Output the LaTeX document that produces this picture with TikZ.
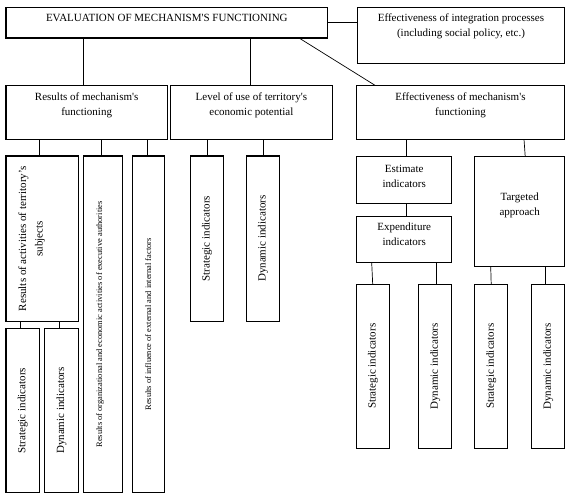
\documentclass[tikz,border=0pt]{standalone}
\usepackage{fontspec}
\setmainfont{Liberation Serif}
\tikzset{
  bx/.style={draw, line width=1.1pt, inner sep=0pt, outer sep=0pt, font=\fontsize{11}{15}\selectfont},
  ln/.style={line width=0.9pt},
  thinln/.style={line width=0.7pt},
}
% horizontal box: opts, name, x1,y1,x2,y2, gap, text
\newcommand\hb[8][]{\node[bx,#1] (#2) at ({(#3+#5)/2},{(#4+#6)/2}) {\parbox[c][\dimexpr#6pt-#4pt\relax][t]{\dimexpr#5pt-#3pt\relax}{\centering\vspace*{#7pt}#8\par}};}
% rotated box: opts, name, x1,y1,x2,y2, inner pos, gap, text
\newcommand\vb[9][]{\node[bx,rotate=90,#1] (#2) at ({(#3+#5)/2},{(#4+#6)/2}) {\parbox[c][\dimexpr#5pt-#3pt\relax][#7]{\dimexpr#6pt-#4pt\relax}{\centering\vspace*{#8pt}#9\par}};}
\begin{document}
\begin{tikzpicture}[x=1pt,y=-1pt]
\useasboundingbox (0,0) rectangle (572,499);
% top level
\hb{eval}{6}{7.3}{327.7}{38}{7}{EVALUATION OF MECHANISM\textquotesingle S FUNCTIONING}
\hb{integ}{357.7}{7.3}{564.3}{63.7}{6.8}{Effectiveness of integration processes\\(including social policy, etc.)}
% second level
\hb{res}{6}{85.3}{167.3}{139.3}{7.2}{Results of mechanism\textquotesingle s\\functioning}
\hb{lev}{170.3}{85.3}{332.5}{139.3}{7.2}{Level of use of territory\textquotesingle s\\economic potential}
\hb{eff}{356.7}{85.3}{564.3}{139.3}{7.2}{Effectiveness of mechanism\textquotesingle s\\functioning}
% results children
\vb[font=\fontsize{11}{16.5}\selectfont]{act}{6}{156}{78.7}{321.3}{t}{12.3}{Results of activities of territory’s\\subjects}
\vb[font=\fontsize{8.4}{10}\selectfont]{org}{83.3}{156}{122.3}{492.7}{t}{13}{Results of organizational and economic activities of executive authorities}
\vb[font=\fontsize{8.4}{10}\selectfont]{inf}{132.3}{156}{164.3}{492.7}{c}{0}{Results of influence of external and internal factors}
\vb{s1}{6}{328.5}{39.3}{492.7}{c}{0}{Strategic indicators}
\vb{d1}{44.3}{328.5}{78.7}{492.7}{c}{0}{Dynamic indicators}
% level children
\vb{s2}{190.3}{156}{223.7}{321.3}{c}{0}{Strategic indicators}
\vb{d2}{246.3}{156}{279.7}{321.3}{c}{0}{Dynamic indicators}
% effectiveness children
\hb[font=\fontsize{11}{14.6}\selectfont]{est}{356.7}{156.3}{451.7}{203.3}{8.9}{Estimate\\indicators}
\hb{exp}{356.7}{216.7}{451.7}{262.7}{5.8}{Expenditure\\indicators}
\hb{tar}{474.7}{156.3}{564.7}{266.3}{36.7}{Targeted\\approach}
\vb{s3}{356.7}{284.3}{389.3}{448.3}{c}{0}{Strategic indicators}
\vb{d3}{418.7}{284.3}{451.7}{448.3}{c}{0}{Dynamic indicators}
\vb{s4}{474.7}{284.3}{507.7}{448.3}{c}{0}{Strategic indicators}
\vb{d4}{531.7}{284.3}{564.7}{448.3}{c}{0}{Dynamic indicators}
% connectors
\draw[ln] ([xshift=-3.35pt]res.north) -- ([xshift=-3.35pt]res.north |- eval.south);
\draw[ln] ([xshift=-0.7pt]lev.north) -- ([xshift=-0.7pt]lev.north |- eval.south);
\draw[ln] (eval.east) -- (eval.east -| integ.west);
\draw[thinln] ([xshift=132.2pt]eval.south) -- ([xshift=-85.5pt]eff.north);
\draw[ln] ([xshift=-2.65pt]act.east) -- ([xshift=-2.65pt]act.east |- res.south);
\draw[ln] ([xshift=-1.5pt]org.east) -- ([xshift=-1.5pt]org.east |- res.south);
\draw[ln] ([xshift=-1pt]inf.east) -- ([xshift=-1pt]inf.east |- res.south);
\draw[ln] ([xshift=-2pt]s1.east) -- ([xshift=-2pt]s1.east |- act.west);
\draw[ln] ([xshift=-2.2pt]d1.east) -- ([xshift=-2.2pt]d1.east |- act.west);
\draw[ln] (s2.east) -- (s2.east |- lev.south);
\draw[ln] (d2.east) -- (d2.east |- lev.south);
\draw[ln] ([xshift=2.5pt]est.north) -- ([xshift=2.5pt]est.north |- eff.south);
\draw[thinln] ([xshift=5.5pt]tar.north) -- ([xshift=4.3pt]tar.north |- eff.south);
\draw[ln] ([xshift=2.5pt]exp.north) -- ([xshift=2.5pt]exp.north |- est.south);
\draw[thinln] ([xshift=-0.3pt]s3.east) -- ([xshift=-1.3pt]s3.east |- exp.south);
\draw[ln] ([xshift=1.5pt]d3.east) -- ([xshift=1.5pt]d3.east |- exp.south);
\draw[thinln] (s4.east) -- ([xshift=-0.5pt]s4.east |- tar.south);
\draw[ln] ([xshift=-2.5pt]d4.east) -- ([xshift=-2.5pt]d4.east |- tar.south);
\end{tikzpicture}
\end{document}
